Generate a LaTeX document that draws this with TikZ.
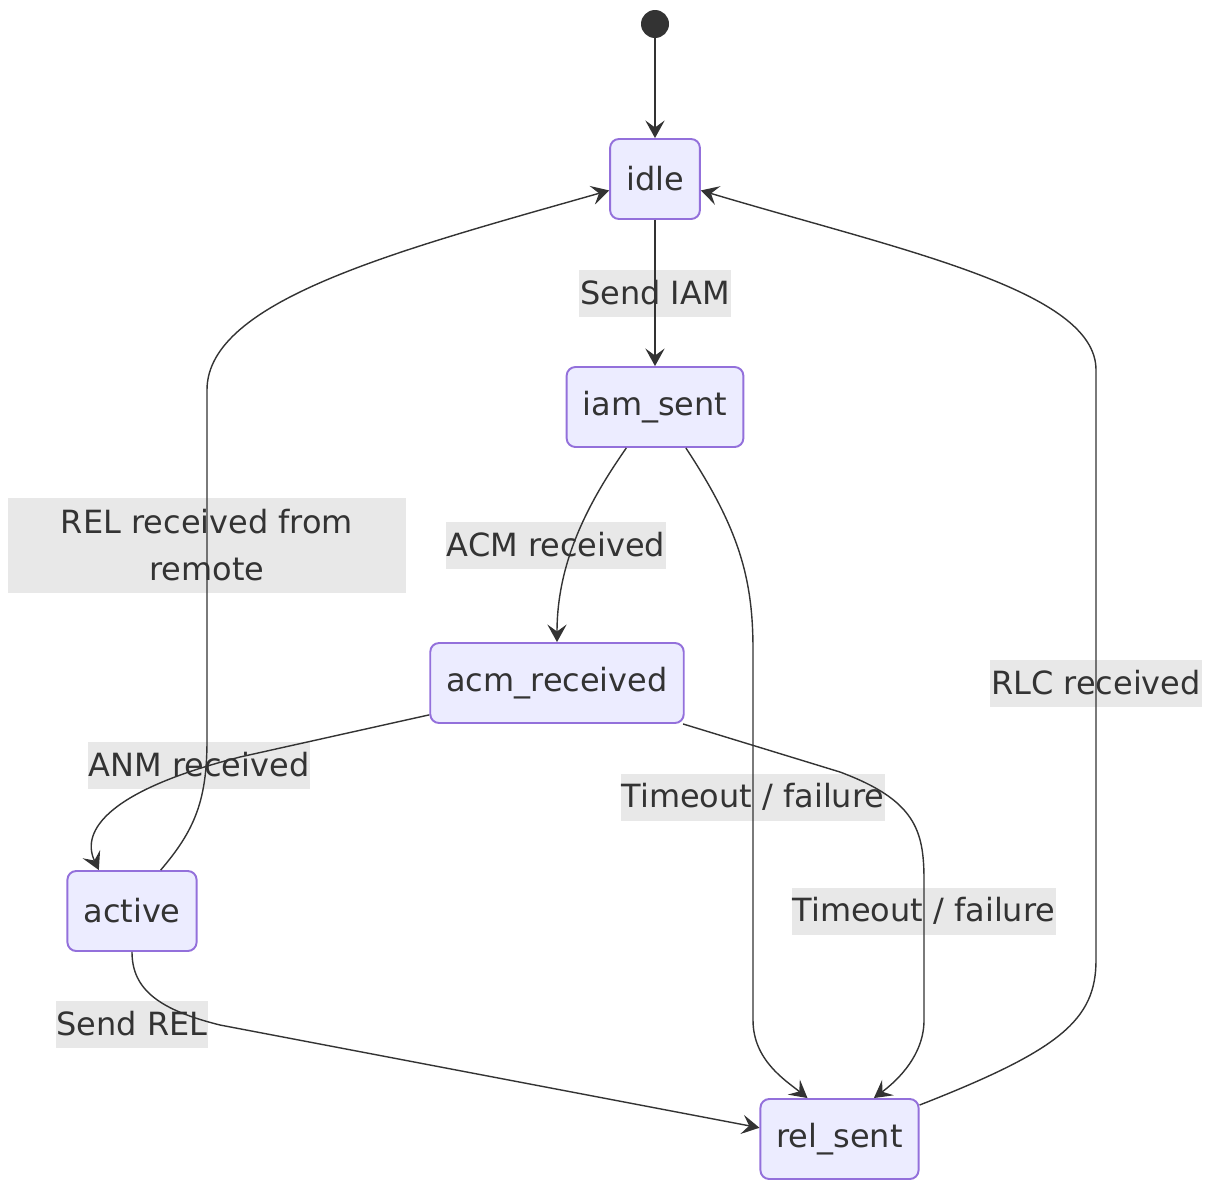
\documentclass[tikz,border=0pt]{standalone}
\usepackage{fontspec}
\setmainfont{DejaVu Sans}
\usetikzlibrary{arrows.meta, positioning}
\definecolor{stfill}{HTML}{ECECFF}
\definecolor{stdraw}{HTML}{9370DB}
\definecolor{ink}{HTML}{333333}
\definecolor{lblbg}{HTML}{E8E8E8}

\begin{document}
\begin{tikzpicture}[
  x=0.02cm, y=-0.02cm,
  font=\fontsize{18.2}{27}\selectfont, text=ink,
  state/.style={draw=stdraw, fill=stfill, line width=1.1pt, rounded corners=5pt, minimum height=1.6cm, inner xsep=0.32cm},
  lbl/.style={fill=lblbg, minimum height=0.94cm, inner xsep=0.02cm, inner ysep=0pt},
  line/.style={-{Stealth[length=10pt, width=11pt, inset=4pt]}, draw=ink, line width=0.8pt}
]
\useasboundingbox (0,0) rectangle (1209,1180);

\node[circle, fill=ink, minimum size=0.56cm, inner sep=0pt] (start) at (655,24) {};
\node[state] (idle) at (655,179) {idle};
\node[state] (iamsent) at (655,407) {iam\_sent};
\node[state] (acmrcvd) at (557,683) {acm\_received};
\node[state] (active) at (132,911) {active};
\node[state] (relsent) at (839.5,1139) {rel\_sent};

\node[lbl] (sendiam) at (655,293) {Send IAM};
\node[lbl, minimum width=7.98cm, minimum height=1.9cm, align=center] (relrem) at (207,545) {REL received from\\remote};
\node[lbl] (acm) at (556,545) {ACM received};
\node[lbl] (rlc) at (1096,683) {RLC received};
\node[lbl] (anm) at (199,765) {ANM received};
\node[lbl] (tmoA) at (753,797) {Timeout / failure};
\node[lbl] (tmoB) at (924,911) {Timeout / failure};
\node[lbl] (sendrel) at (132,1024) {Send REL};

\draw[line] (start) -- (idle);
\draw[line] (idle) -- (iamsent);
\draw[line] (iamsent.-125) .. controls (590,500) and (557,560) .. (acmrcvd.north);
\draw[line] (iamsent.-53) .. controls (740,530) and (753,580) .. (753,650) -- (753,1020)
  .. controls (753,1060) and (785,1080) .. (relsent.128);
\draw[line] (acmrcvd.-166) -- (240,757) .. controls (110,790) and (80,830) .. (active.129);
\draw[line] (acmrcvd.-18) -- (840,772) .. controls (915,800) and (924,830) .. (924,880) -- (924,1020)
  .. controls (924,1055) and (898,1080) .. (relsent.50);
\draw[line] (active.55) .. controls (195,830) and (207,800) .. (207,740) -- (207,390)
  .. controls (207,300) and (400,250) .. (idle.-166);
\draw[line] (active.south) .. controls (132,990) and (160,1010) .. (220,1025) -- (relsent.172);
\draw[line] (relsent.23) .. controls (1060,1050) and (1096,1020) .. (1096,960) -- (1096,370)
  .. controls (1096,290) and (900,250) .. (idle.-14);
\end{tikzpicture}
\end{document}
